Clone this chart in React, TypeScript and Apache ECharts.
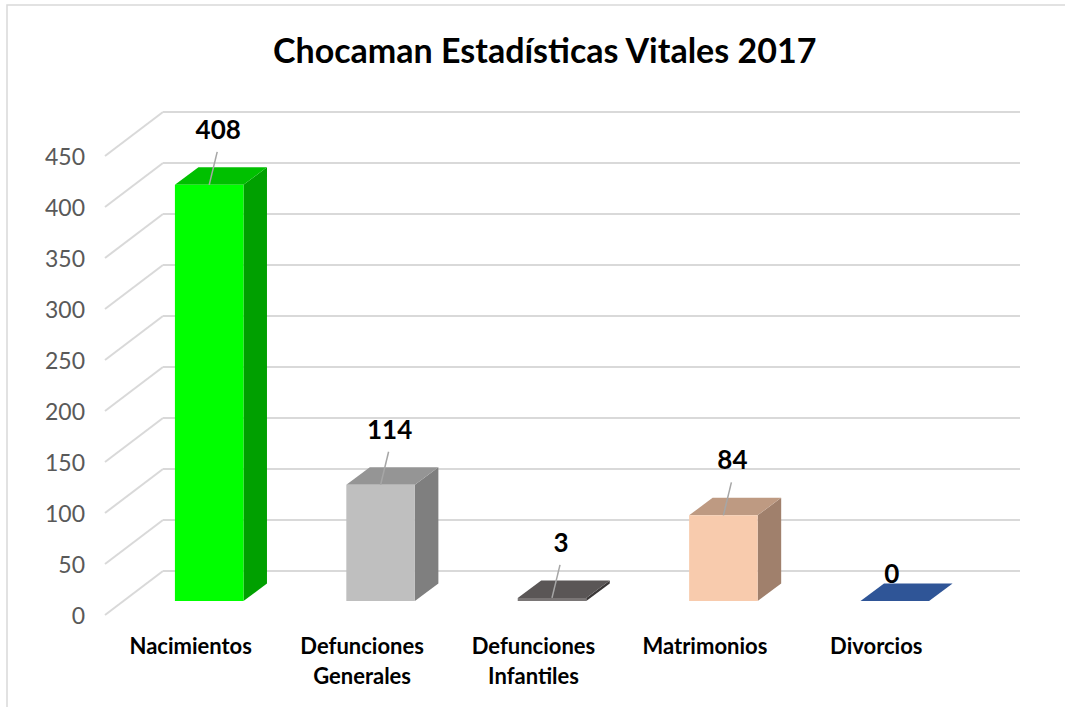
import React, { useEffect, useRef } from "react";
import * as echarts from "echarts";

const title = "Chocaman Estadísticas Vitales 2017";
const categories = ["Nacimientos", "Defunciones\nGenerales", "Defunciones\nInfantiles", "Matrimonios", "Divorcios"];
const values = [408, 114, 3, 84, 0];
const frontColors = ["#00FF00", "#BFBFBF", "#7A7676", "#F8CBAD", "#2F5597"];
const sideColors = ["#00A000", "#7F7F7F", "#3B3838", "#A0806C", "#1F3864"];
const topColors = ["#00C000", "#959595", "#5A5656", "#BE9A82", "#2F5597"];
const yTicks = [0, 50, 100, 150, 200, 250, 300, 350, 400, 450];

const FONT = "Lato, 'Noto Sans', sans-serif";
// depth offsets relative to the back wall plane
const FX = -39.5, FY = 30; // bar front face
const BX = -16, BY = 12.5; // bar back face
const DX = -58, DY = 44; // front edge of floor

export default function App() {
  const ref = useRef<HTMLDivElement>(null);
  useEffect(() => {
    document.body.style.margin = "0";
    const chart = echarts.init(ref.current!, null, { renderer: "svg" });
    const option: any = {
      animation: false,
      backgroundColor: "#ffffff",
      textStyle: { fontFamily: FONT },
      title: {
        text: title,
        left: 268,
        top: 27,
        textStyle: { fontFamily: FONT, fontWeight: "bold", fontSize: 34, color: "#000000" },
      },
      graphic: [
        {
          type: "rect",
          shape: { x: 7, y: 5, width: 1200, height: 900 },
          style: { fill: "none", stroke: "#D9D9D9", lineWidth: 1.5 },
          silent: true,
        },
      ],
      grid: [
        { left: 163, right: 45, top: 112, bottom: 136 },
        { left: 105, right: 103, top: 156, bottom: 92 },
      ],
      xAxis: [
        {
          gridIndex: 0,
          type: "category",
          data: categories,
          axisLine: { show: false },
          axisTick: { show: false },
          axisLabel: { show: false },
          splitLine: { show: false },
        },
        {
          gridIndex: 1,
          type: "category",
          data: categories,
          axisLine: { show: false },
          axisTick: { show: false },
          splitLine: { show: false },
          axisLabel: {
            margin: 15,
            fontFamily: FONT,
            fontWeight: "bold",
            fontSize: 22,
            lineHeight: 30,
            color: "#000000",
            interval: 0,
          },
        },
      ],
      yAxis: [
        {
          gridIndex: 0,
          type: "value",
          min: 0,
          max: 450,
          interval: 50,
          axisLine: { show: false },
          axisTick: { show: false },
          axisLabel: { show: false },
          splitLine: { show: true, lineStyle: { color: "#D9D9D9", width: 2 } },
        },
        {
          gridIndex: 1,
          type: "value",
          min: 0,
          max: 450,
          interval: 50,
          axisLine: { show: false },
          axisTick: { show: false },
          splitLine: { show: false },
          axisLabel: { margin: 20, fontFamily: FONT, fontSize: 23, color: "#595959" },
        },
      ],
      series: [
        {
          type: "custom",
          xAxisIndex: 0,
          yAxisIndex: 0,
          z: 1,
          silent: true,
          data: yTicks.map((t) => [0, t]),
          renderItem: (params: any, api: any) => {
            const y = api.coord([0, api.value(1)])[1];
            const x = params.coordSys.x;
            return {
              type: "line",
              shape: { x1: x, y1: y, x2: x + DX, y2: y + DY },
              style: { stroke: "#D9D9D9", lineWidth: 2 },
            };
          },
        },
        {
          type: "custom",
          xAxisIndex: 0,
          yAxisIndex: 0,
          z: 5,
          silent: true,
          data: values.map((v, i) => [i, v]),
          renderItem: (params: any, api: any) => {
            const i = api.value(0);
            const v = api.value(1);
            const base = api.coord([i, 0]);
            const top = api.coord([i, v]);
            const band = api.size([1, 0])[0];
            const w = band * 0.4;
            const cx = base[0];
            const xLf = cx + FX - w / 2, xRf = xLf + w;
            const xLb = cx + BX - w / 2, xRb = xLb + w;
            const yTf = top[1] + FY, yBf = base[1] + FY;
            const yTb = top[1] + BY, yBb = base[1] + BY;
            const children: any[] = [
              {
                type: "polygon",
                shape: { points: [[xRf, yTf], [xRb, yTb], [xRb, yBb], [xRf, yBf]] },
                style: { fill: sideColors[i] },
              },
              {
                type: "polygon",
                shape: { points: [[xLf, yTf], [xRf, yTf], [xRb, yTb], [xLb, yTb]] },
                style: { fill: topColors[i] },
              },
            ];
            if (yBf - yTf > 0) {
              children.push({
                type: "rect",
                shape: { x: xLf, y: yTf, width: w, height: yBf - yTf },
                style: { fill: frontColors[i] },
              });
            }
            const fc = cx + FX;
            if (v > 0) {
              children.push({
                type: "line",
                shape: { x1: fc, y1: yTf, x2: fc + 8, y2: yTf - 33 },
                style: { stroke: "#A6A6A6", lineWidth: 1.5 },
              });
            }
            children.push({
              type: "text",
              style: {
                text: String(v),
                x: fc + (v > 0 ? 9 : -3),
                y: yTf - (v > 0 ? 56 : 28),
                align: "center",
                verticalAlign: "middle",
                fontFamily: FONT,
                fontWeight: "bold",
                fontSize: 26,
                fill: "#000000",
              },
            });
            return { type: "group", children };
          },
        },
      ],
    };
    chart.setOption(option);
    return () => chart.dispose();
  }, []);
  return <div ref={ref} style={{ width: 1065, height: 707 }} />;
}
